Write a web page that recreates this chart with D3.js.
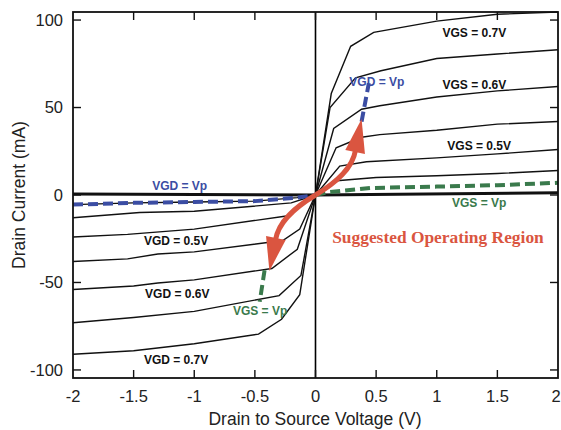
<!DOCTYPE html>
<html>
<head>
<meta charset="utf-8">
<script src="https://cdn.jsdelivr.net/npm/d3@7"></script>
<style>
  body { margin: 0; background: #fff; }
  text { font-family: "Liberation Sans", Arial, sans-serif; }
</style>
</head>
<body>
<div id="chart"></div>
<script>
// axis ticks
var vdsTicks = [-2, -1.5, -1, -0.5, 0, 0.5, 1, 1.5, 2];
var idTicks = [-100, -50, 0, 50, 100];

// positive VDS family (VGS curves), [Vds, Id mA]
var vgsCurve1 = [[0,0],[0.13,58],[0.29,85],[0.48,93],[1,99.4],[1.5,103.3],[2,104.6]];
var vgsCurve2 = [[0,0],[0.12,50],[0.33,67],[0.54,71],[1,78],[1.5,80.6],[2,83]];
var vgsCurve3 = [[0,0],[0.15,38],[0.38,49],[0.53,51],[1,56],[1.5,59.5],[2,62]];
var vgsCurve4 = [[0,0],[0.17,27],[0.38,33],[0.53,34.5],[1,37],[1.5,40.5],[2,42]];
var vgsCurve5 = [[0,0],[0.2,16.5],[0.42,19],[1,21.2],[1.5,23.5],[2,26]];
var vgsCurve6 = [[0,0],[0.15,8],[0.5,10],[1,11],[1.5,12.3],[2,14]];
var vgsPinch = [[0,0],[0.1,1.5],[0.45,4],[1,4.8],[1.5,5.6],[2,7]];
var vgsOff = [[0,0],[2,1.3]];

// negative VDS family (VGD curves)
var vgdCurve1 = [[-2,-91],[-1.5,-89],[-1,-85],[-0.47,-79.5],[-0.28,-71],[-0.13,-57],[0,0]];
var vgdCurve2 = [[-2,-73],[-1.5,-70],[-1,-66.5],[-0.3,-57.5],[-0.12,-46],[0,0]];
var vgdCurve3 = [[-2,-54],[-1.5,-52],[-1.3,-50.3],[-1,-48.5],[-0.36,-42],[-0.15,-31],[0,0]];
var vgdCurve4 = [[-2,-38],[-1.55,-36.5],[-1.3,-33.7],[-1,-32.5],[-0.27,-26],[-0.13,-19.5],[0,0]];
var vgdCurve5 = [[-2,-24],[-1.55,-22.5],[-1,-19.5],[-0.24,-12],[0,0]];
var vgdCurve6 = [[-2,-13],[-1.45,-10],[-1,-9.3],[-0.2,-4.5],[0,0]];
var vgdPinch = [[-2,-5.5],[-1.5,-4.5],[-1,-4],[-0.5,-3.5],[-0.15,-1.5],[0,0]];
var vgdOff = [[-2,0.6],[0,0]];

// pinch-off loci (short dashed segments)
var vgdLocus = [[0.38,42],[0.41,53],[0.44,64]];
var vgsLocus = [[-0.42,-43],[-0.44,-52],[-0.46,-61]];

var width = 561, height = 430;
var blue = "#3b4da3", green = "#3a7a4c", red = "#da5540";

var x = d3.scaleLinear().domain([-2, 2]).range([73, 558]);
var y = d3.scaleLinear().domain([-104.6, 104.6]).range([378, 12]);

var svg = d3.select("#chart").append("svg")
    .attr("width", width)
    .attr("height", height);

var line = d3.line()
    .x(function(d) { return x(d[0]); })
    .y(function(d) { return y(d[1]); });

// vertical zero line
svg.append("line")
    .attr("x1", x(0)).attr("x2", x(0))
    .attr("y1", y.range()[1]).attr("y2", y.range()[0])
    .attr("stroke", "#000").attr("stroke-width", 1.6);

// thin black curves
var blackCurves = [vgsCurve1, vgsCurve2, vgsCurve3, vgsCurve4, vgsCurve5, vgsCurve6,
                   vgdCurve1, vgdCurve2, vgdCurve3, vgdCurve4, vgdCurve5, vgdCurve6, vgdPinch];
svg.selectAll(".curve")
    .data(blackCurves)
    .enter().append("path")
    .attr("class", "curve")
    .attr("d", line)
    .attr("fill", "none")
    .attr("stroke", "#111")
    .attr("stroke-width", 1.4);

svg.selectAll(".off")
    .data([vgsOff, vgdOff])
    .enter().append("path")
    .attr("class", "off")
    .attr("d", line)
    .attr("fill", "none")
    .attr("stroke", "#111")
    .attr("stroke-width", 3);

// dashed pinch-off curves
function dashed(data, colour) {
    svg.append("path")
        .attr("d", line(data))
        .attr("fill", "none")
        .attr("stroke", colour)
        .attr("stroke-width", 4)
        .attr("stroke-dasharray", "10,5");
}
dashed(vgdPinch, blue);
dashed(vgsPinch, green);
dashed(vgdLocus, blue);
dashed(vgsLocus, green);

// red double-headed arrow through the origin
var arrowHalf = [[0, 0], [0.165, 6.9], [0.305, 14.9], [0.33, 25.7]];
var arrowTip = [0.38, 43.4];
function drawArrow(s) {
    var p = arrowHalf.map(function(d) { return [x(s * d[0]), y(s * d[1])]; });
    svg.append("path")
        .attr("d", "M" + p[0] + "C" + p[1] + " " + p[2] + " " + p[3])
        .attr("fill", "none")
        .attr("stroke", red)
        .attr("stroke-width", 5);
    var tip = [x(s * arrowTip[0]), y(s * arrowTip[1])];
    var b = p[3];
    var dx = tip[0] - b[0], dy = tip[1] - b[1];
    var len = Math.sqrt(dx * dx + dy * dy);
    var nx = -dy / len * 10, ny = dx / len * 10;
    var bx = b[0] - dx / len * 2, by = b[1] - dy / len * 2;
    svg.append("path")
        .attr("d", "M" + tip + "L" + [bx + nx, by + ny] + "L" + [bx - nx, by - ny] + "Z")
        .attr("fill", red);
}
drawArrow(1);
drawArrow(-1);

// frame
svg.append("rect")
    .attr("x", 73).attr("y", 12)
    .attr("width", 558 - 73).attr("height", 378 - 12)
    .attr("fill", "none")
    .attr("stroke", "#111")
    .attr("stroke-width", 1.8);

// inward ticks on all sides
var tickLen = 8;
var g = svg.append("g").attr("stroke", "#111").attr("stroke-width", 1.4);
vdsTicks.slice(1, -1).forEach(function(v) {
    g.append("line").attr("x1", x(v)).attr("x2", x(v)).attr("y1", 378).attr("y2", 378 - tickLen);
    g.append("line").attr("x1", x(v)).attr("x2", x(v)).attr("y1", 12).attr("y2", 12 + tickLen);
});
idTicks.forEach(function(v) {
    g.append("line").attr("y1", y(v)).attr("y2", y(v)).attr("x1", 73).attr("x2", 73 + tickLen);
    g.append("line").attr("y1", y(v)).attr("y2", y(v)).attr("x1", 558).attr("x2", 558 - tickLen);
});

// tick labels (last one nudged in so it stays on the page)
svg.selectAll(".xlab")
    .data(vdsTicks)
    .enter().append("text")
    .attr("x", function(d) { return Math.min(x(d), width - 5); })
    .attr("y", 402)
    .attr("text-anchor", "middle")
    .attr("font-size", 16.5)
    .attr("fill", "#222")
    .text(function(d) { return d; });

svg.selectAll(".ylab")
    .data(idTicks)
    .enter().append("text")
    .attr("x", 63)
    .attr("y", function(d) { return y(d); })
    .attr("dy", "0.35em")
    .attr("text-anchor", "end")
    .attr("font-size", 16.5)
    .attr("fill", "#222")
    .text(function(d) { return d; });

// axis titles
svg.append("text")
    .attr("x", 315).attr("y", 425)
    .attr("text-anchor", "middle")
    .attr("font-size", 17.5)
    .attr("fill", "#222")
    .text("Drain to Source Voltage (V)");

svg.append("text")
    .attr("transform", "translate(25,195) rotate(-90)")
    .attr("text-anchor", "middle")
    .attr("font-size", 17.5)
    .attr("fill", "#222")
    .text("Drain Current (mA)");

// curve labels
var labels = [
    {t: "VGS = 0.7V", v: 1.31, i: 90.3, c: "#111"},
    {t: "VGS = 0.6V", v: 1.31, i: 60.6, c: "#111"},
    {t: "VGS = 0.5V", v: 1.35, i: 25.7, c: "#111"},
    {t: "VGS = Vp", v: 1.35, i: -6.9, c: green},
    {t: "VGD = Vp", v: 0.506, i: 62.3, c: blue},
    {t: "VGD = Vp", v: -1.12, i: 2.9, c: blue},
    {t: "VGD = 0.5V", v: -1.15, i: -28.6, c: "#111"},
    {t: "VGD = 0.6V", v: -1.14, i: -58.9, c: "#111"},
    {t: "VGD = 0.7V", v: -1.15, i: -96.6, c: "#111"},
    {t: "VGS = Vp", v: -0.457, i: -68.6, c: green}
];
svg.selectAll(".clab")
    .data(labels)
    .enter().append("text")
    .attr("x", function(d) { return x(d.v); })
    .attr("y", function(d) { return y(d.i); })
    .attr("text-anchor", "middle")
    .attr("font-size", 12)
    .attr("font-weight", "bold")
    .attr("fill", function(d) { return d.c; })
    .text(function(d) { return d.t; });

svg.append("text")
    .attr("x", x(1.01)).attr("y", y(-27.4))
    .attr("text-anchor", "middle")
    .style("font-family", "'Liberation Serif', 'Times New Roman', serif")
    .attr("font-size", 17.4)
    .attr("font-weight", "bold")
    .attr("fill", red)
    .text("Suggested Operating Region");
</script>
</body>
</html>
